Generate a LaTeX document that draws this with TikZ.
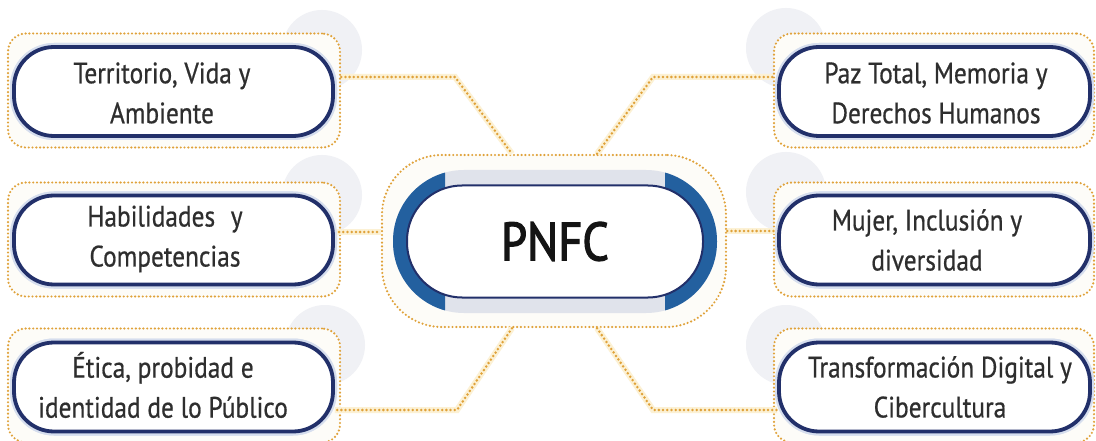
\documentclass[tikz,border=0pt]{standalone}
\usepackage{fontspec}
\setmainfont[FakeStretch=0.86,FakeBold=0.6]{PT Sans}
\newfontfamily\pnfcfont[FakeStretch=0.86,FakeBold=2.2]{PT Sans}
\definecolor{navy}{HTML}{22306A}
\definecolor{halo}{HTML}{D6DEEE}
\definecolor{gold}{HTML}{E0A23A}
\definecolor{goldhalo}{HTML}{FCF1D4}
\definecolor{framebg}{HTML}{FDFCF8}
\definecolor{txt}{HTML}{2E2E2E}
\definecolor{ghost}{HTML}{F0F1F5}
\definecolor{arcblue}{HTML}{23609F}
\definecolor{strip}{HTML}{E0E3EB}
\begin{document}
\begin{tikzpicture}[x=1pt,y=-1pt,
  frame/.style={rectangle, rounded corners=18pt, draw=gold, line width=2.4pt, line cap=round, dash pattern=on 0pt off 3.8pt, fill=framebg, inner sep=0pt},
  sideframe/.style={frame, minimum height=114pt},
  box/.style={rectangle, rounded corners=40pt, minimum height=89pt, draw=navy, line width=3.8pt, fill=white, inner sep=0pt, preaction={draw=halo, line width=8pt}},
  lbl/.style={text=txt, font=\fontsize{29.5}{40}\selectfont, align=center, inner sep=0pt},
  link/.style={draw=gold, line width=2.8pt, line cap=round, dash pattern=on 0pt off 4.2pt, preaction={draw=goldhalo, line width=6pt, dash pattern=}},
]
\useasboundingbox (0,0) rectangle (1096,441);
\fill[white] (0,0) rectangle (1096,441);

% ghost circles
\foreach \x/\y in {322/50, 322/195, 325/345, 786/48, 786/192, 786/345}
  \fill[ghost] (\x,\y) circle (40pt);

% dotted frames
\node[sideframe, minimum width=332pt] (d1) at (174,90.5) {};
\node[sideframe, minimum width=332pt] (d2) at (174,239.5) {};
\node[sideframe, minimum width=332pt] (d3) at (174,385.5) {};
\node[sideframe, minimum width=320pt] (d4) at (934,90.5) {};
\node[sideframe, minimum width=320pt] (d5) at (934,239.5) {};
\node[sideframe, minimum width=320pt] (d6) at (934,385.5) {};
\node[frame, rounded corners=60pt, minimum width=344pt, minimum height=172pt] (dc) at (554,241) {};

% side boxes
\path
  (173.5,91.5) node[box, minimum width=319pt] (b1) {}
  (173.5,240) node[box, minimum width=319pt] (b2) {}
  (173.5,387) node[box, minimum width=319pt] (b3) {}
  (934.5,91.5) node[box, minimum width=311pt] (b4) {}
  (934.5,240) node[box, minimum width=311pt] (b5) {}
  (934.5,387) node[box, minimum width=311pt] (b6) {};

% connectors
\path[link] ([yshift=13.5pt]d1.east) -- (455,77) -- ([xshift=-42pt]dc.north);
\path[link] ([xshift=43pt]dc.north) -- (653,77) -- ([yshift=13.5pt]d4.west);
\path[link] ([yshift=8pt]b2.east) -- ([yshift=9pt]dc.west);
\path[link] ([yshift=10pt]dc.east) -- ([yshift=9pt]b5.west);
\path[link] ([xshift=-42pt]dc.south) -- (457,410) -- ([yshift=-23pt]b3.east);
\path[link] ([xshift=43pt]dc.south) -- (653,410) -- ([yshift=-23pt]b6.west);

% boxes again, over the connector ends
\path
  (173.5,91.5) node[box, minimum width=319pt] (b1t) {}
  (173.5,240) node[box, minimum width=319pt] (b2t) {}
  (173.5,387) node[box, minimum width=319pt] (b3t) {}
  (934.5,91.5) node[box, minimum width=311pt] (b4t) {}
  (934.5,240) node[box, minimum width=311pt] (b5t) {}
  (934.5,387) node[box, minimum width=311pt] (b6t) {};

% labels
\node[lbl] (t1) at (162,93) {Territorio, Vida y\\Ambiente};
\node[lbl] (t2) at (165,239) {Habilidades\hspace{0.3em} y\\Competencias};
\node[lbl] (t3) at (163,385) {Ética, probidad e\\identidad de lo Público};
\node[lbl] (t4) at (936,93) {Paz Total, Memoria y\\Derechos Humanos};
\node[lbl] (t5) at (927,240) {Mujer, Inclusión y\\diversidad};
\node[lbl] (t6) at (940,387) {Transformación Digital y\\Cibercultura};

% central element
\fill[strip, rounded corners=71pt] (393,170) rectangle (717,313);
\begin{scope}
  \clip (385,160) rectangle (445,325);
  \fill[arcblue, even odd rule] [rounded corners=71pt] (393,170) rectangle (717,313) [rounded corners=56pt] (408,185) rectangle (702,298);
\end{scope}
\begin{scope}
  \clip (665,160) rectangle (725,325);
  \fill[arcblue, even odd rule] [rounded corners=71pt] (393,170) rectangle (717,313) [rounded corners=56pt] (408,185) rectangle (702,298);
\end{scope}
\node[rectangle, rounded corners=55pt, minimum width=296pt, minimum height=112pt, draw=navy, line width=2pt, fill=white, inner sep=0pt,
      font=\pnfcfont\fontsize{54}{54}\selectfont, text=black!92] (c) at (555,241.5) {PNFC};
\end{tikzpicture}
\end{document}
